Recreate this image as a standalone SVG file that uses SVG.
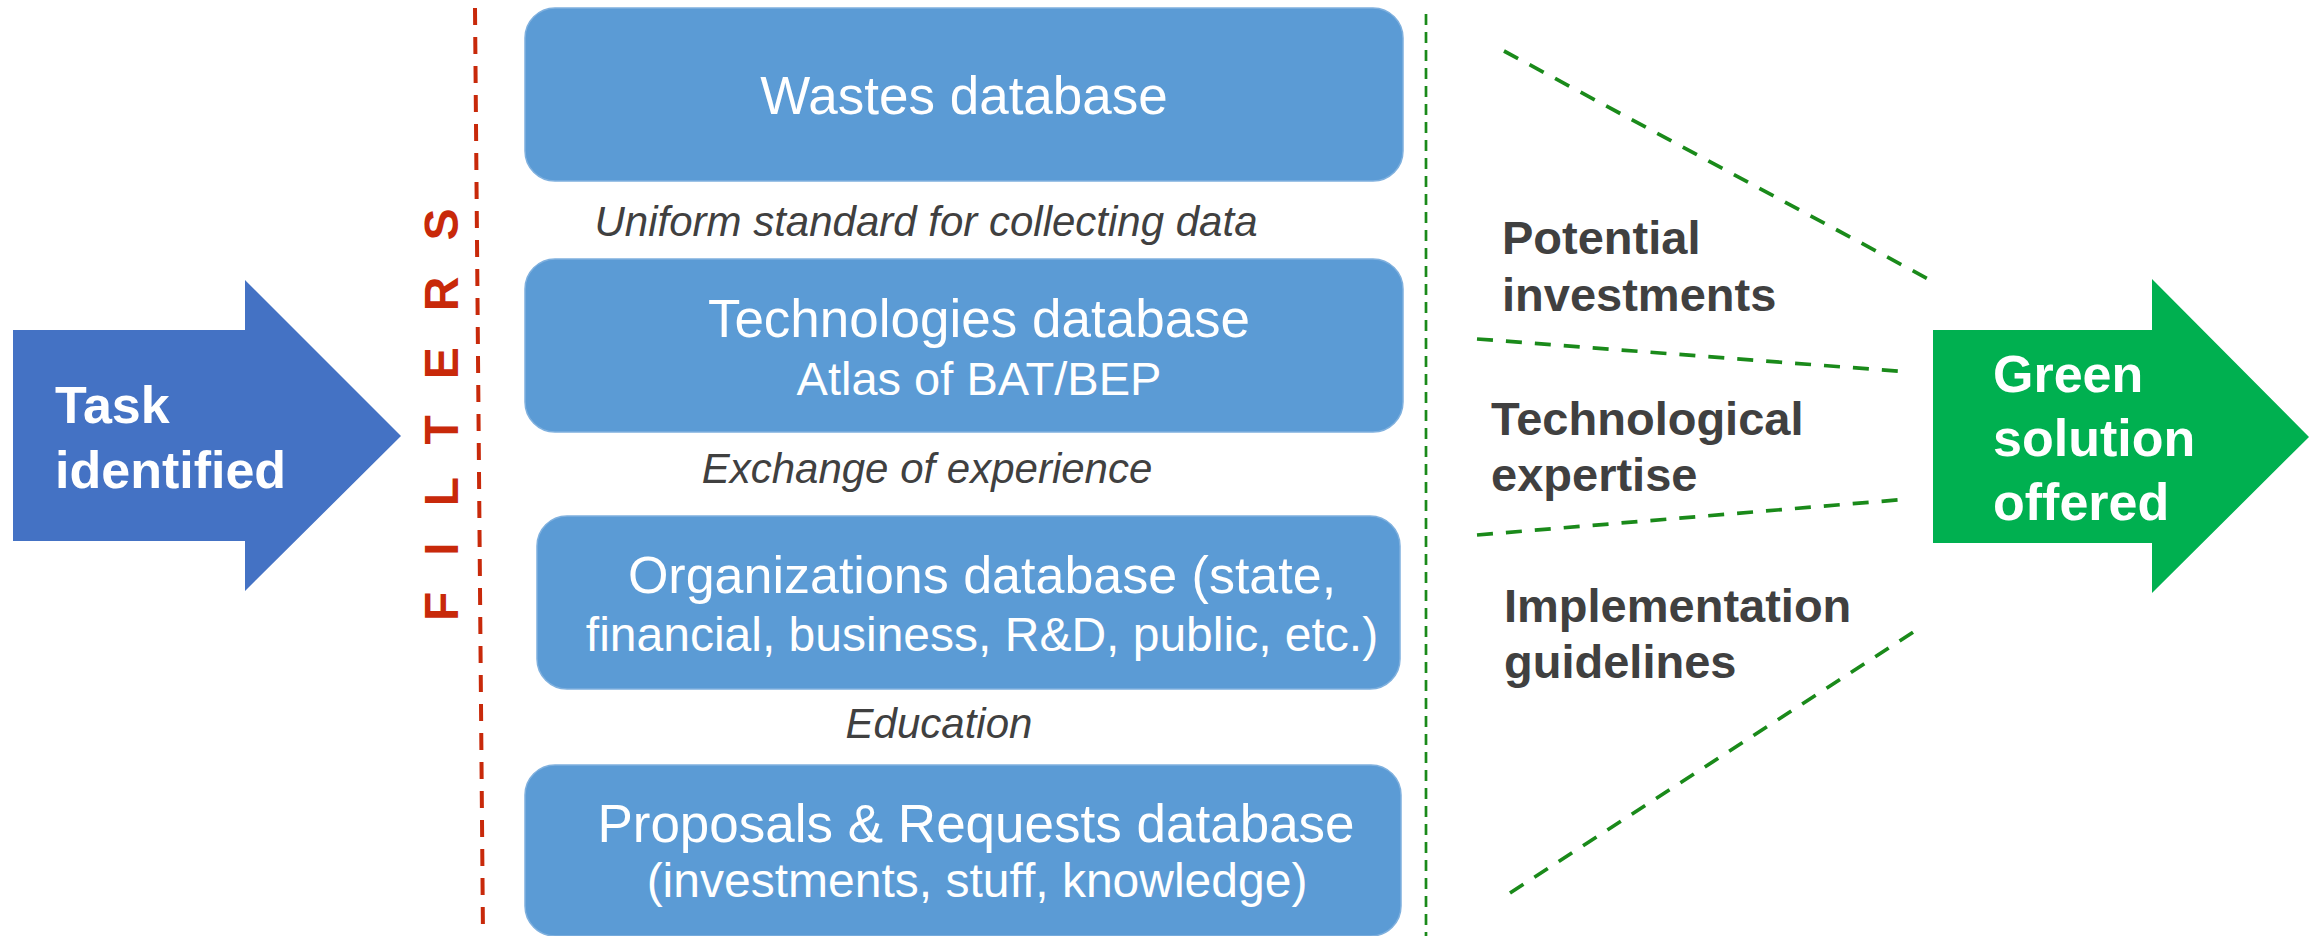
<svg xmlns="http://www.w3.org/2000/svg" width="2318" height="936" viewBox="0 0 2318 936">
<style>
.box{fill:#5B9BD5;stroke:#7FB0DE;stroke-width:1.5}
.bt{font-family:"Liberation Sans",Arial,sans-serif;font-size:53px;fill:#fff;text-anchor:middle}
.it{font-family:"Liberation Sans",Arial,sans-serif;font-size:42px;font-style:italic;fill:#404040;text-anchor:middle}
.rt{font-family:"Liberation Sans",Arial,sans-serif;font-size:47px;font-weight:bold;fill:#404040}
.at{font-family:"Liberation Sans",Arial,sans-serif;font-size:52px;font-weight:bold;fill:#fff}
.gd{stroke:#1A8A1A;stroke-width:3.7;stroke-dasharray:16 13;fill:none}
</style>
<rect width="2318" height="936" fill="#fff"/>
<g id="task">
<polygon points="13,330 245,330 245,280 401,436 245,591 245,541 13,541" fill="#4472C4"/>
<text class="at" x="55" y="423">Task</text>
<text class="at" x="55" y="488">identified</text>
</g>
<g id="filters">
<line x1="475" y1="8" x2="483" y2="936" stroke="#C8290A" stroke-width="4" stroke-dasharray="17 12"/>
<text transform="translate(458,621) rotate(-90)" font-family="Liberation Sans,Arial,sans-serif" font-size="48" font-weight="bold" fill="#C8290A" letter-spacing="36">FILTERS</text>
</g>
<g id="wastes">
<rect class="box" x="525" y="8" width="878" height="173" rx="30"/>
<text class="bt" x="964" y="114">Wastes database</text>
</g>
<text class="it" x="926" y="236">Uniform standard for collecting data</text>
<g id="technologies">
<rect class="box" x="525" y="259" width="878" height="173" rx="30"/>
<text class="bt" x="979" y="337">Technologies database</text>
<text class="bt" x="979" y="395" style="font-size:47px">Atlas of BAT/BEP</text>
</g>
<text class="it" x="927" y="483">Exchange of experience</text>
<g id="organizations">
<rect class="box" x="537" y="516" width="863" height="173" rx="30"/>
<text class="bt" x="982" y="593" style="font-size:52px">Organizations database (state,</text>
<text class="bt" x="982" y="651" style="font-size:48px">financial, business, R&amp;D, public, etc.)</text>
</g>
<text class="it" x="939" y="738">Education</text>
<g id="proposals">
<rect class="box" x="525" y="765" width="876" height="171" rx="30"/>
<text class="bt" x="976" y="842">Proposals &amp; Requests database</text>
<text class="bt" x="977" y="897" style="font-size:48px">(investments, stuff, knowledge)</text>
</g>
<g id="connectors">
<line x1="1426" y1="14" x2="1426" y2="936" stroke="#1A8A1A" stroke-width="2.7" stroke-dasharray="11 7"/>
<line class="gd" x1="1504" y1="51" x2="1930" y2="280"/>
<line class="gd" x1="1477" y1="339" x2="1909" y2="372"/>
<line class="gd" x1="1477" y1="535" x2="1909" y2="499"/>
<line class="gd" x1="1510" y1="893" x2="1915" y2="631"/>
</g>
<g id="labels">
<text class="rt" x="1502" y="254">Potential</text>
<text class="rt" x="1502" y="311">investments</text>
<text class="rt" x="1491" y="435">Technological</text>
<text class="rt" x="1491" y="491">expertise</text>
<text class="rt" x="1504" y="622">Implementation</text>
<text class="rt" x="1504" y="678">guidelines</text>
</g>
<g id="green">
<polygon points="1933,330 2152,330 2152,279 2309,437 2152,593 2152,543 1933,543" fill="#00B050"/>
<text class="at" x="1993" y="392">Green</text>
<text class="at" x="1993" y="456">solution</text>
<text class="at" x="1993" y="520">offered</text>
</g>
</svg>
